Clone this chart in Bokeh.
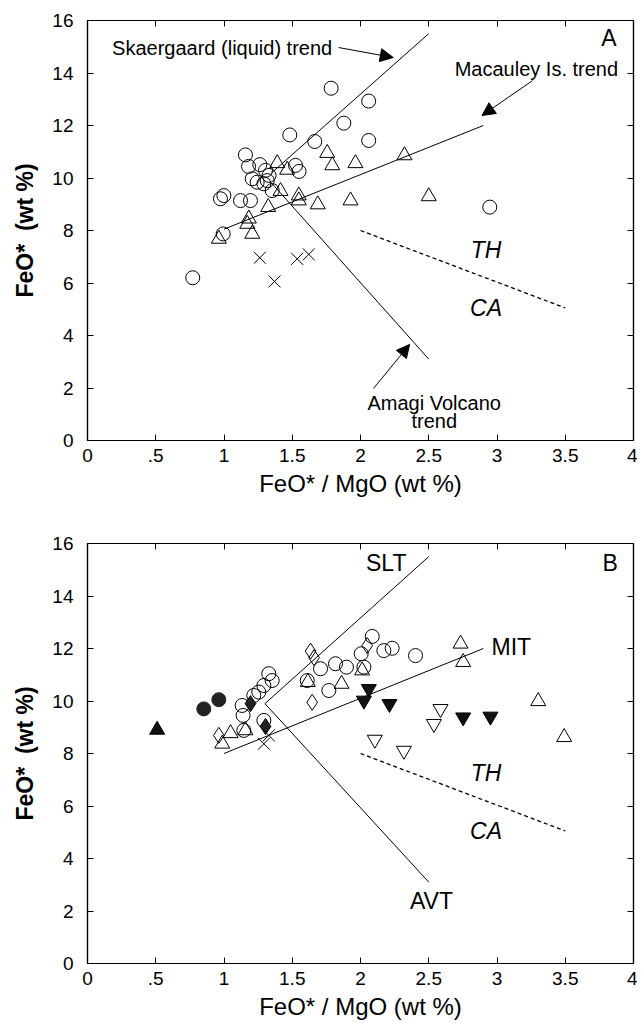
from bokeh.plotting import figure
from bokeh.layouts import column
from bokeh.models import (Arrow, NormalHead, LinearAxis, FixedTicker, Range1d, Label)
from bokeh.embed import file_html
from bokeh.resources import INLINE

FONT = "Liberation Sans"

# ---------------- data: panel A ----------------
A_circle_x = [1.785, 2.06, 1.878, 1.482, 1.665, 2.06, 1.157, 1.18, 1.262, 1.304, 1.524, 1.55,
              1.207, 1.243, 1.317, 1.33, 1.292, 0.999, 0.974, 1.121, 1.194, 1.353, 0.994, 0.771, 2.947]
A_circle_y = [13.42, 12.93, 12.09, 11.64, 11.39, 11.43, 10.88, 10.44, 10.51, 10.29, 10.48, 10.25,
              9.97, 9.84, 9.90, 10.10, 9.78, 9.33, 9.21, 9.14, 9.14, 9.52, 7.87, 6.20, 8.89]
A_tri_x = [1.756, 1.793, 1.963, 1.39, 1.463, 1.414, 1.548, 1.548, 1.687, 1.927, 1.324, 1.182,
           1.17, 1.207, 0.962, 2.322, 2.5]
A_tri_y = [10.95, 10.48, 10.56, 10.56, 10.31, 9.50, 9.33, 9.14, 8.99, 9.14, 8.89, 8.45,
           8.25, 7.87, 7.68, 10.86, 9.30]
A_cross_x = [1.262, 1.536, 1.621, 1.37]
A_cross_y = [6.96, 6.92, 7.09, 6.06]

# trend lines panel A (x pair, y pair)
A_skaer = ([1.35, 2.5], [10.2, 15.5])
A_macau = ([1.0, 2.9], [8.05, 12.0])
A_amagi = ([1.35, 2.5], [9.8, 3.1])
A_thca = ([2.0, 3.5], [8.0, 5.05])

# ---------------- data: panel B ----------------
B_circle_x = [2.086, 2.005, 2.171, 2.232, 2.403, 1.817, 1.897, 2.025, 1.768, 1.707, 1.328, 1.353,
              1.292, 1.218, 1.255, 1.133, 1.14, 1.145, 1.292, 1.61]
B_circle_y = [12.46, 11.80, 11.92, 12.01, 11.73, 11.42, 11.29, 11.29, 10.40, 11.23, 11.04, 10.78,
              10.59, 10.21, 10.34, 9.83, 9.45, 8.88, 9.26, 10.78]
B_tri_x = [1.048, 0.987, 1.157, 1.614, 1.861, 2.012, 2.733, 2.752, 3.302, 3.492]
B_tri_y = [8.77, 8.37, 8.88, 10.72, 10.65, 11.16, 12.18, 11.48, 9.99, 8.62]
B_trifill_x = [0.51]
B_trifill_y = [8.9]
B_circfill_x = [0.852, 0.962]
B_circfill_y = [9.70, 10.05]
B_diafill_x = [1.194, 1.304]
B_diafill_y = [9.90, 9.03]
B_dia_x = [0.962, 1.634, 1.66, 1.646, 2.049]
B_dia_y = [8.69, 11.90, 11.65, 9.95, 12.11]
B_invfill_x = [2.061, 2.025, 2.212, 2.752, 2.952]
B_invfill_y = [10.46, 10.02, 9.89, 9.38, 9.41]
B_inv_x = [2.586, 2.538, 2.105, 2.318]
B_inv_y = [9.70, 9.13, 8.53, 8.11]
B_cross_x = [1.292, 1.328]
B_cross_y = [8.37, 8.69]

B_slt = ([1.3, 2.5], [9.9, 15.5])
B_mit = ([1.0, 2.9], [8.0, 12.0])
B_avt = ([1.3, 2.5], [9.9, 3.1])
B_thca = ([2.0, 3.5], [8.0, 5.05])

x_ticks = [0, 0.5, 1, 1.5, 2, 2.5, 3, 3.5, 4]
x_tick_labels = ["0", ".5", "1", "1.5", "2", "2.5", "3", "3.5", "4"]
y_ticks = [0, 2, 4, 6, 8, 10, 12, 14, 16]
y_tick_labels = ["0", "2", "4", "6", "8", "10", "12", "14", "16"]


def make_fig(top_border, bottom_border):
    p = figure(frame_width=546, frame_height=420, output_backend="svg", toolbar_location=None,
               x_range=Range1d(0, 4), y_range=Range1d(0, 16),
               min_border_left=87, min_border_right=4,
               min_border_top=top_border, min_border_bottom=bottom_border,
               x_axis_label="FeO* / MgO (wt %)", y_axis_label="FeO*\u00a0 (wt %)")
    p.xgrid.visible = False
    p.ygrid.visible = False
    p.outline_line_color = "black"
    p.outline_line_width = 1.2
    p.background_fill_color = "white"
    p.border_fill_color = "white"

    xo = {float(t): l for t, l in zip(x_ticks, x_tick_labels)}
    yo = {float(t): l for t, l in zip(y_ticks, y_tick_labels)}
    for ax in p.xaxis:
        ax.ticker = FixedTicker(ticks=x_ticks)
        ax.major_label_overrides = xo
        ax.major_label_standoff = 8
        ax.axis_label_standoff = 5
    for ax in p.yaxis:
        ax.ticker = FixedTicker(ticks=y_ticks)
        ax.major_label_overrides = yo
        ax.major_label_standoff = 14
        ax.axis_label_standoff = 11
    for ax in list(p.xaxis) + list(p.yaxis):
        ax.major_tick_in = 6
        ax.major_tick_out = 0
        ax.minor_tick_line_color = None
        ax.axis_line_color = "black"
        ax.axis_line_width = 1.2
        ax.major_label_text_font = FONT
        ax.major_label_text_font_size = "19px"
        ax.major_label_text_color = "black"
        ax.axis_label_text_font = FONT
        ax.axis_label_text_font_size = "24px"
        ax.axis_label_text_font_style = "normal"
        ax.axis_label_text_color = "black"
    for ax in p.yaxis:
        ax.axis_label_text_font_style = "bold"
        ax.axis_label_text_font_size = "23px"

    top = LinearAxis(ticker=FixedTicker(ticks=x_ticks), major_tick_in=6, major_tick_out=0,
                     minor_tick_line_color=None, major_label_text_font_size="0px",
                     major_label_standoff=0, axis_line_width=1.2)
    right = LinearAxis(ticker=FixedTicker(ticks=y_ticks), major_tick_in=6, major_tick_out=0,
                       minor_tick_line_color=None, major_label_text_font_size="0px",
                       major_label_standoff=0, axis_line_width=1.2)
    p.add_layout(top, "above")
    p.add_layout(right, "right")
    return p


def txt(p, x, y, s, size="20px", align="left", style="normal", baseline="middle"):
    p.add_layout(Label(x=x, y=y, text=s, text_font=FONT, text_font_size=size,
                       text_align=align, text_baseline=baseline, text_font_style=style,
                       text_color="black"))


def arrow(p, xs, ys, xe, ye):
    p.add_layout(Arrow(end=NormalHead(size=13, fill_color="black", line_color="black"),
                       x_start=xs, y_start=ys, x_end=xe, y_end=ye,
                       line_color="black", line_width=1))


# ---------------- panel A ----------------
pA = make_fig(20, 75)
for xs, ys in (A_skaer, A_macau, A_amagi):
    pA.line(xs, ys, line_color="black", line_width=1)
pA.line(A_thca[0], A_thca[1], line_color="black", line_width=1.3, line_dash="4 3")

pA.scatter(A_circle_x, A_circle_y, marker="circle", size=14, fill_color=None,
           line_color="black", line_width=1)
pA.scatter(A_tri_x, A_tri_y, marker="triangle", size=15, fill_color=None,
           line_color="black", line_width=1)
pA.scatter(A_cross_x, A_cross_y, marker="x", size=17, line_color="black", line_width=1)

txt(pA, 0.18, 14.97, "Skaergaard (liquid) trend")
arrow(pA, 1.84, 14.97, 2.24, 14.59)
txt(pA, 2.69, 14.17, "Macauley Is. trend")
arrow(pA, 3.26, 13.71, 2.89, 12.38)
txt(pA, 2.54, 1.41, "Amagi Volcano", align="center")
txt(pA, 2.54, 0.74, "trend", align="center")
arrow(pA, 2.095, 1.98, 2.36, 3.66)
txt(pA, 3.82, 15.35, "A", size="23px", align="center")
txt(pA, 2.92, 7.25, "TH", size="23px", align="center", style="italic")
txt(pA, 2.92, 5.05, "CA", size="23px", align="center", style="italic")

# ---------------- panel B ----------------
pB = make_fig(28, 52)
for xs, ys in (B_slt, B_mit, B_avt):
    pB.line(xs, ys, line_color="black", line_width=1)
pB.line(B_thca[0], B_thca[1], line_color="black", line_width=1.3, line_dash="4 3")

pB.scatter(B_circle_x, B_circle_y, marker="circle", size=14, fill_color=None,
           line_color="black", line_width=1)
pB.scatter(B_tri_x, B_tri_y, marker="triangle", size=15, fill_color=None,
           line_color="black", line_width=1)
pB.scatter(B_dia_x, B_dia_y, marker="diamond", size=16, fill_color=None,
           line_color="black", line_width=1)
pB.scatter(B_inv_x, B_inv_y, marker="inverted_triangle", size=15, fill_color=None,
           line_color="black", line_width=1)
pB.scatter(B_invfill_x, B_invfill_y, marker="inverted_triangle", size=15, fill_color="#111111",
           line_color="black", line_width=1)
pB.scatter(B_trifill_x, B_trifill_y, marker="triangle", size=15, fill_color="#111111",
           line_color="black", line_width=1)
pB.scatter(B_circfill_x, B_circfill_y, marker="circle", size=14, fill_color="#222222",
           line_color="#222222", line_width=1)
pB.scatter(B_diafill_x, B_diafill_y, marker="diamond", size=16, fill_color="#222222",
           line_color="black", line_width=1)
pB.scatter(B_cross_x, B_cross_y, marker="x", size=17, line_color="black", line_width=1)

txt(pB, 2.04, 15.24, "SLT", size="23px")
txt(pB, 2.96, 12.04, "MIT", size="23px")
txt(pB, 2.52, 2.4, "AVT", size="23px", align="center")
txt(pB, 3.83, 15.24, "B", size="23px", align="center")
txt(pB, 2.92, 7.25, "TH", size="23px", align="center", style="italic")
txt(pB, 2.92, 5.05, "CA", size="23px", align="center", style="italic")

layout = column(pA, pB, spacing=0)
open("out.html", "w").write(file_html(layout, INLINE))
